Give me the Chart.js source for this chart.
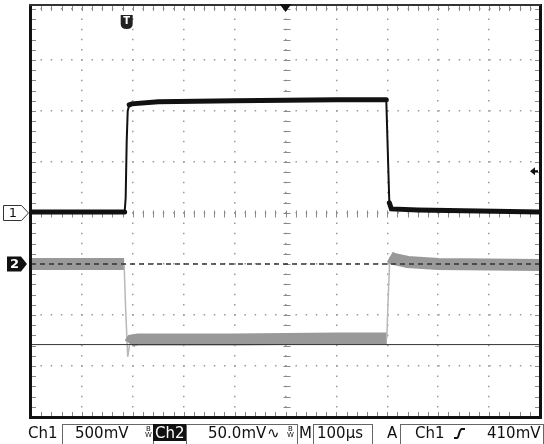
<!DOCTYPE html>
<html>
<head>
<meta charset="utf-8">
<script src="https://cdn.jsdelivr.net/npm/chart.js@4/dist/chart.umd.min.js"></script>
<style>
  html, body { margin: 0; padding: 0; background: #fff; }
  canvas { display: block; }
</style>
</head>
<body>
<canvas id="scope" width="544" height="444"></canvas>
<script>
// time across the screen in µs (0 = left edge, 100 µs/div)
const ch1Time  = [0, 184, 186, 188, 190, 193, 198, 250, 400, 600, 698, 701, 704, 708, 760, 1000];
const ch1Volts = [0.01, 0.01, 0.15, 0.7, 1.0, 1.06, 1.07, 1.09, 1.10, 1.11, 1.11, 0.6, 0.1, 0.04, 0.03, 0.01];

const ch2Time = [0, 183, 186, 190, 194, 198, 210, 400, 600, 699, 702, 705, 712, 740, 800, 1000];
const ch2mV   = [0, 0, -45, -91, -78, -75, -74, -74, -73, -73, -30, 7, 5, 2, 0, -1];

const ch2Ground = 0;       // mV, dashed reference
const cursorLevel = -79;   // mV, horizontal cursor
const triggerTime = 188;   // µs
const triggerLevel = 0.41; // V

const statusText = ['Ch1', '500mV', 'Ch2', '50.0mV', 'M', '100µs', 'A', 'Ch1', '410mV'];

const toPoints = (xs, ys) => xs.map((t, i) => ({ x: t, y: ys[i] }));
// fast edges are drawn thin, flat levels thick
const steep = (ctx, lim) => {
  const dx = Math.max(ctx.p1.parsed.x - ctx.p0.parsed.x, 0.001);
  return Math.abs(ctx.p1.parsed.y - ctx.p0.parsed.y) / dx > lim;
};

const scopeDecor = {
  id: 'scopeDecor',
  beforeDatasetsDraw(chart) {
    const { ctx, chartArea: a, scales: { x, y } } = chart;
    const cx = Math.round(x.getPixelForValue(500)) + 0.5;
    const cy = Math.round(y.getPixelForValue(0)) + 0.5;
    ctx.save();
    ctx.strokeStyle = '#8a8a8a';
    ctx.lineWidth = 1;
    ctx.beginPath();
    for (let i = 0; i <= 40; i++) {
      const py = Math.round(y.getPixelForValue(-2 + i * 0.1)) + 0.5;
      ctx.moveTo(cx - 3, py); ctx.lineTo(cx + 4, py);
      ctx.moveTo(a.left, py); ctx.lineTo(a.left + 5, py);
      ctx.moveTo(a.right - 5, py); ctx.lineTo(a.right, py);
    }
    for (let i = 0; i <= 50; i++) {
      const px = Math.round(x.getPixelForValue(i * 20)) + 0.5;
      ctx.moveTo(px, cy - 3); ctx.lineTo(px, cy + 4);
      ctx.moveTo(px, a.top - 3); ctx.lineTo(px, a.top + 2);
      ctx.moveTo(px, a.bottom - 5); ctx.lineTo(px, a.bottom);
    }
    ctx.stroke();
    ctx.restore();
  },
  afterDraw(chart) {
    const { ctx, chartArea: a, scales: { x, y, y2 } } = chart;
    ctx.save();
    // frame
    ctx.fillStyle = '#111';
    ctx.fillRect(a.left - 2, a.top - 5, 3, a.bottom - a.top + 7);
    ctx.fillRect(a.right - 1, a.top - 5, 3, a.bottom - a.top + 7);
    ctx.fillRect(a.left - 2, a.bottom - 1, a.right - a.left + 3, 3);
    ctx.fillStyle = '#333';
    ctx.fillRect(a.left - 2, a.top - 5, a.right - a.left + 3, 2);

    // top centre marker
    const cx = x.getPixelForValue(500);
    ctx.fillStyle = '#111';
    ctx.beginPath();
    ctx.moveTo(cx - 6, a.top - 5); ctx.lineTo(cx + 6, a.top - 5); ctx.lineTo(cx, a.top + 3);
    ctx.closePath(); ctx.fill();

    // trigger position marker
    const tx = x.getPixelForValue(triggerTime);
    ctx.fillStyle = '#222';
    ctx.beginPath();
    ctx.moveTo(tx - 6, 15); ctx.lineTo(tx + 6, 15); ctx.lineTo(tx + 6, 24);
    ctx.quadraticCurveTo(tx + 6, 29, tx, 29); ctx.quadraticCurveTo(tx - 6, 29, tx - 6, 24);
    ctx.closePath(); ctx.fill();
    ctx.fillStyle = '#fff';
    ctx.font = 'bold 10px "DejaVu Sans"';
    ctx.textAlign = 'center';
    ctx.textBaseline = 'middle';
    ctx.fillText('T', tx, 21.5);

    // trigger level arrow
    const ty = y.getPixelForValue(triggerLevel);
    ctx.fillStyle = '#111';
    ctx.beginPath();
    ctx.moveTo(a.right - 10, ty); ctx.lineTo(a.right - 5, ty - 4); ctx.lineTo(a.right - 5, ty + 4);
    ctx.closePath(); ctx.fill();
    ctx.fillRect(a.right - 6, ty - 1, 4, 2);

    // channel 1 ground marker
    const g1 = y.getPixelForValue(0);
    ctx.beginPath();
    ctx.moveTo(3.5, g1 - 7.5); ctx.lineTo(21.5, g1 - 7.5); ctx.lineTo(28.5, g1);
    ctx.lineTo(21.5, g1 + 7.5); ctx.lineTo(3.5, g1 + 7.5); ctx.closePath();
    ctx.fillStyle = '#fff'; ctx.fill();
    ctx.strokeStyle = '#333'; ctx.lineWidth = 1; ctx.stroke();
    ctx.fillStyle = '#111';
    ctx.font = '13px "DejaVu Sans"';
    ctx.fillText('1', 13, g1 + 0.5);

    // channel 2 ground marker
    const g2 = y2.getPixelForValue(ch2Ground);
    ctx.beginPath();
    ctx.moveTo(7, g2 - 7.5); ctx.lineTo(21, g2 - 7.5); ctx.lineTo(27, g2);
    ctx.lineTo(21, g2 + 7.5); ctx.lineTo(7, g2 + 7.5); ctx.closePath();
    ctx.fillStyle = '#111'; ctx.fill();
    ctx.fillStyle = '#fff';
    ctx.font = 'bold 13px "DejaVu Sans"';
    ctx.fillText('2', 14.5, g2 + 0.5);

    // status bar
    ctx.strokeStyle = '#666';
    ctx.lineWidth = 1;
    [[62, 153], [186, 297], [313, 372], [400, 543]].forEach(([l, r]) => {
      ctx.strokeRect(l + 0.5, 424.5, r - l, 30);
    });
    ctx.fillStyle = '#111';
    ctx.fillRect(153, 424, 33, 17);

    ctx.textAlign = 'left';
    ctx.textBaseline = 'alphabetic';
    ctx.font = '15px "DejaVu Sans"';
    const base = 438;
    ctx.fillStyle = '#111';
    ctx.fillText(statusText[0], 28, base);
    ctx.fillText(statusText[1], 75, base);
    ctx.fillStyle = '#fff';
    ctx.fillText(statusText[2], 155, base);
    ctx.fillStyle = '#111';
    ctx.fillText(statusText[3], 208, base);
    ctx.fillText('∿', 267, base);
    ctx.fillText(statusText[4], 299, base);
    ctx.fillText(statusText[5], 317, base);
    ctx.fillText(statusText[6], 387, base);
    ctx.fillText(statusText[7], 415, base);
    ctx.fillText(statusText[8], 487, base);

    // bandwidth-limit glyphs
    ctx.font = '7px "DejaVu Sans"';
    ctx.fillText('B', 146, 431);
    ctx.fillText('W', 145, 437);
    ctx.fillText('B', 288, 431);
    ctx.fillText('W', 287, 437);

    // rising slope glyph
    ctx.lineWidth = 2;
    ctx.strokeStyle = '#111';
    ctx.beginPath();
    ctx.moveTo(454, 438);
    ctx.lineTo(457, 438);
    ctx.bezierCurveTo(459, 438, 459, 429, 462, 429);
    ctx.lineTo(465, 429);
    ctx.stroke();
    ctx.restore();
  }
};

new Chart(document.getElementById('scope'), {
  type: 'line',
  data: {
    datasets: [
      {
        label: 'Ch1',
        data: toPoints(ch1Time, ch1Volts),
        yAxisID: 'y',
        borderColor: '#111',
        borderWidth: 5,
        borderCapStyle: 'round',
        pointRadius: 0,
        segment: { borderWidth: ctx => steep(ctx, 0.02) ? 2 : 5 }
      },
      {
        label: 'Ch2 ground',
        data: toPoints([0, 1000], [ch2Ground, ch2Ground]),
        yAxisID: 'y2',
        borderColor: '#333',
        borderWidth: 1.3,
        borderDash: [5, 4],
        pointRadius: 0
      },
      {
        label: 'Cursor',
        data: toPoints([0, 1000], [cursorLevel, cursorLevel]),
        yAxisID: 'y2',
        borderColor: '#333',
        borderWidth: 1,
        pointRadius: 0
      },
      {
        label: 'Ch2',
        data: toPoints(ch2Time, ch2mV),
        yAxisID: 'y2',
        borderColor: '#999',
        borderWidth: 12,
        pointRadius: 0,
        segment: {
          borderWidth: ctx => steep(ctx, 2) ? 1.5 : 12,
          borderColor: ctx => steep(ctx, 2) ? '#b8b8b8' : '#999'
        }
      }
    ]
  },
  options: {
    responsive: false,
    animation: false,
    layout: { padding: { left: 31, right: 4, top: 9, bottom: 27 } },
    plugins: { legend: { display: false }, tooltip: { enabled: false } },
    scales: {
      x: {
        type: 'linear',
        min: 0, max: 1000,
        ticks: { display: false, stepSize: 100 },
        grid: { color: '#9a9a9a', lineWidth: 1.5, drawTicks: false },
        border: { display: false, dash: [1.5, 8.7], dashOffset: 0.75 }
      },
      y: {
        min: -2, max: 2,
        ticks: { display: false, stepSize: 0.5 },
        grid: { color: '#9a9a9a', lineWidth: 1.5, drawTicks: false },
        border: { display: false, dash: [1.5, 8.7], dashOffset: 0.75 }
      },
      y2: {
        display: false,
        min: -150, max: 250
      }
    }
  },
  plugins: [scopeDecor]
});
</script>
</body>
</html>
